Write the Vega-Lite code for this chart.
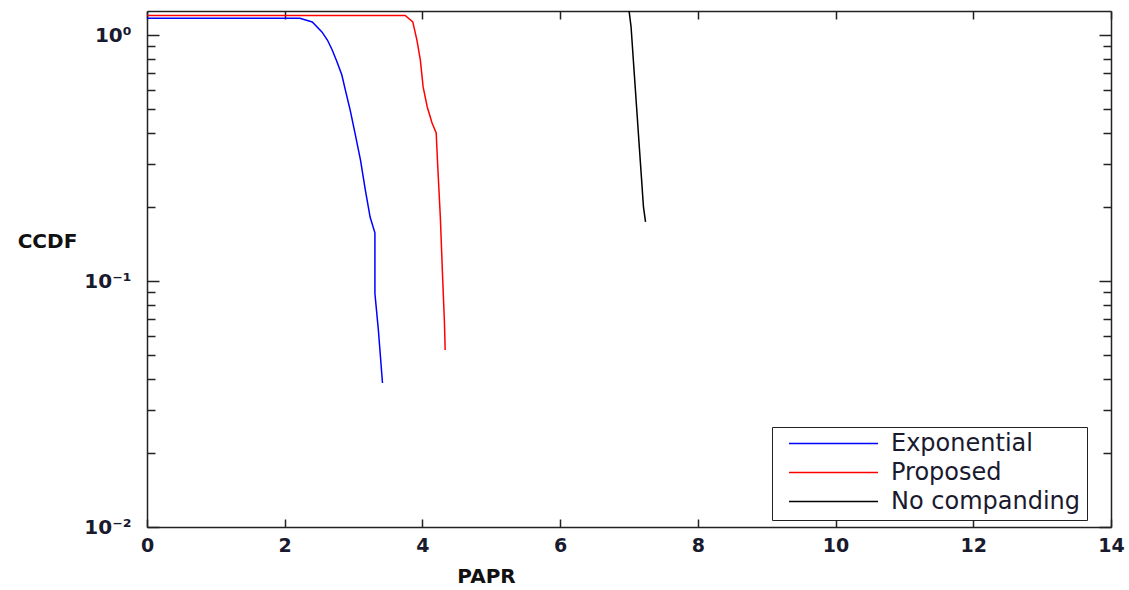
{
  "$schema": "https://vega.github.io/schema/vega-lite/v6.json",
  "width": 964,
  "height": 516,
  "autosize": {"type": "none"},
  "padding": {"left": 147, "top": 11, "right": 18, "bottom": 63},
  "background": "white",
  "config": {
    "view": {"stroke": null},
    "axis": {
      "grid": false,
      "domainColor": "#222222",
      "domainWidth": 1.5,
      "tickColor": "#222222",
      "tickWidth": 1.5,
      "labelFont": "DejaVu Sans",
      "labelFontWeight": "bold",
      "labelFontSize": 19,
      "labelColor": "#1a1a2e",
      "titleFont": "DejaVu Sans",
      "titleFontWeight": "bold",
      "titleFontSize": 20,
      "titleColor": "#111111"
    }
  },
  "data": {
    "values": [
      {"series": "Exponential", "i": 0, "papr": 0, "ccdf": 1.17},
      {"series": "Exponential", "i": 1, "papr": 2.22, "ccdf": 1.17},
      {"series": "Exponential", "i": 2, "papr": 2.40, "ccdf": 1.13},
      {"series": "Exponential", "i": 3, "papr": 2.54, "ccdf": 1.03},
      {"series": "Exponential", "i": 4, "papr": 2.62, "ccdf": 0.954},
      {"series": "Exponential", "i": 5, "papr": 2.69, "ccdf": 0.869},
      {"series": "Exponential", "i": 6, "papr": 2.76, "ccdf": 0.777},
      {"series": "Exponential", "i": 7, "papr": 2.83, "ccdf": 0.688},
      {"series": "Exponential", "i": 8, "papr": 2.88, "ccdf": 0.598},
      {"series": "Exponential", "i": 9, "papr": 2.95, "ccdf": 0.496},
      {"series": "Exponential", "i": 10, "papr": 3.02, "ccdf": 0.40},
      {"series": "Exponential", "i": 11, "papr": 3.10, "ccdf": 0.311},
      {"series": "Exponential", "i": 12, "papr": 3.17, "ccdf": 0.235},
      {"series": "Exponential", "i": 13, "papr": 3.24, "ccdf": 0.182},
      {"series": "Exponential", "i": 14, "papr": 3.31, "ccdf": 0.157},
      {"series": "Exponential", "i": 15, "papr": 3.31, "ccdf": 0.089},
      {"series": "Exponential", "i": 16, "papr": 3.36, "ccdf": 0.0633},
      {"series": "Exponential", "i": 17, "papr": 3.42, "ccdf": 0.0385},
      {"series": "Proposed", "i": 0, "papr": 0, "ccdf": 1.20},
      {"series": "Proposed", "i": 1, "papr": 3.75, "ccdf": 1.20},
      {"series": "Proposed", "i": 2, "papr": 3.86, "ccdf": 1.13},
      {"series": "Proposed", "i": 3, "papr": 3.92, "ccdf": 0.954},
      {"series": "Proposed", "i": 4, "papr": 3.97, "ccdf": 0.791},
      {"series": "Proposed", "i": 5, "papr": 4.01, "ccdf": 0.615},
      {"series": "Proposed", "i": 6, "papr": 4.07, "ccdf": 0.51},
      {"series": "Proposed", "i": 7, "papr": 4.14, "ccdf": 0.439},
      {"series": "Proposed", "i": 8, "papr": 4.20, "ccdf": 0.40},
      {"series": "Proposed", "i": 9, "papr": 4.22, "ccdf": 0.302},
      {"series": "Proposed", "i": 10, "papr": 4.26, "ccdf": 0.182},
      {"series": "Proposed", "i": 11, "papr": 4.29, "ccdf": 0.109},
      {"series": "Proposed", "i": 12, "papr": 4.32, "ccdf": 0.0675},
      {"series": "Proposed", "i": 13, "papr": 4.33, "ccdf": 0.0524},
      {"series": "No companding", "i": 0, "papr": 7.00, "ccdf": 1.26},
      {"series": "No companding", "i": 1, "papr": 7.03, "ccdf": 1.08},
      {"series": "No companding", "i": 2, "papr": 7.06, "ccdf": 0.814},
      {"series": "No companding", "i": 3, "papr": 7.09, "ccdf": 0.615},
      {"series": "No companding", "i": 4, "papr": 7.12, "ccdf": 0.464},
      {"series": "No companding", "i": 5, "papr": 7.15, "ccdf": 0.35},
      {"series": "No companding", "i": 6, "papr": 7.18, "ccdf": 0.265},
      {"series": "No companding", "i": 7, "papr": 7.21, "ccdf": 0.20},
      {"series": "No companding", "i": 8, "papr": 7.24, "ccdf": 0.174}
    ]
  },
  "layer": [
    {
      "mark": {"type": "line", "strokeWidth": 1.5, "clip": true},
      "encoding": {
        "x": {
          "field": "papr", "type": "quantitative",
          "scale": {"domain": [0, 14], "nice": false, "zero": false},
          "axis": {
            "orient": "bottom", "title": "PAPR",
            "values": [0, 2, 4, 6, 8, 10, 12, 14],
            "tickSize": -8, "labelPadding": 17,
            "labelBaseline": "top", "labelFlush": false,
            "titleX": 339, "titleY": 49, "titleBaseline": "middle", "titleAnchor": "start", "titleAlign": "center"
          }
        },
        "y": {
          "field": "ccdf", "type": "quantitative",
          "scale": {"type": "log", "domain": [0.01, 1.252], "nice": false},
          "axis": {
            "orient": "left", "title": "CCDF",
            "values": [0.01, 0.02, 0.03, 0.04, 0.05, 0.06, 0.07, 0.08, 0.09, 0.1, 0.2, 0.3, 0.4, 0.5, 0.6, 0.7, 0.8, 0.9, 1],
            "labelExpr": "datum.value == 1 ? '10⁰' : datum.value == 0.1 ? '10⁻¹' : datum.value == 0.01 ? '10⁻²' : ''",
            "labelOverlap": false, "labelFlush": false, "labelFontSize": 20,
            "tickSize": {"condition": {"test": "datum.value == 1 || datum.value == 0.1 || datum.value == 0.01", "value": -12}, "value": -8},
            "labelPadding": 28,
            "titleAngle": 0, "titleX": -100, "titleY": 230, "titleAlign": "center", "titleBaseline": "middle", "titleAnchor": "start"
          }
        },
        "color": {
          "field": "series", "type": "nominal",
          "scale": {"domain": ["Exponential", "Proposed", "No companding"], "range": ["#0000ff", "#ff0000", "#000000"]},
          "legend": {
            "title": null, "orient": "none", "legendX": 625, "legendY": 416,
            "direction": "vertical",
            "symbolType": "stroke", "symbolSize": 7921, "symbolStrokeWidth": 1.5,
            "clipHeight": 21, "rowPadding": 4,
            "labelFont": "DejaVu Sans", "labelFontSize": 24, "labelColor": "#1a1a2e", "labelOffset": 12, "labelLimit": 400,
            "padding": 6, "symbolOffset": 10,
            "strokeColor": "#222222", "fillColor": "white", "cornerRadius": 0
          }
        },
        "order": {"field": "i", "type": "quantitative"}
      }
    },
    {
      "mark": {"type": "line", "opacity": 0, "clip": true},
      "encoding": {
        "x": {
          "field": "papr", "type": "quantitative",
          "axis": {"orient": "top", "title": null, "labels": false, "values": [0, 2, 4, 6, 8, 10, 12, 14], "tickSize": -8}
        },
        "y": {
          "field": "ccdf", "type": "quantitative",
          "axis": {
            "orient": "right", "title": null, "labels": false,
            "values": [0.01, 0.02, 0.03, 0.04, 0.05, 0.06, 0.07, 0.08, 0.09, 0.1, 0.2, 0.3, 0.4, 0.5, 0.6, 0.7, 0.8, 0.9, 1],
            "tickSize": {"condition": {"test": "datum.value == 1 || datum.value == 0.1 || datum.value == 0.01", "value": -12}, "value": -8}
          }
        },
        "detail": {"field": "series"},
        "order": {"field": "i", "type": "quantitative"}
      }
    }
  ],
  "resolve": {"axis": {"x": "independent", "y": "independent"}}
}
